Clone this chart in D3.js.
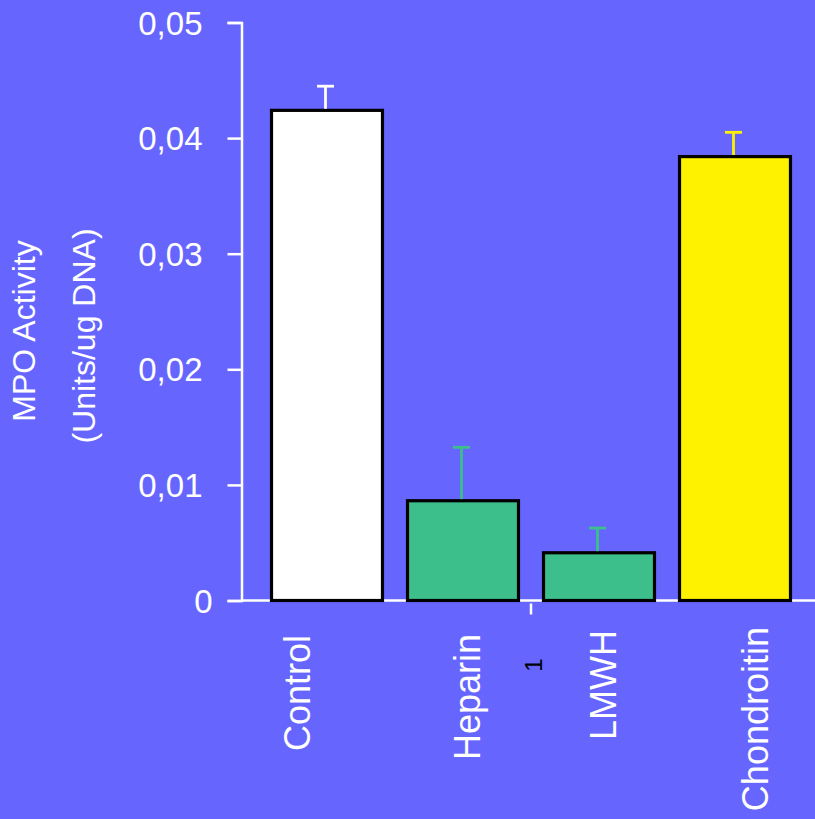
<!DOCTYPE html>
<html>
<head>
<meta charset="utf-8">
<script src="https://cdn.jsdelivr.net/npm/d3@7/dist/d3.min.js"></script>
<style>
  html, body { margin: 0; padding: 0; background: #6666ff; }
  svg { display: block; }
  text { font-family: "Liberation Sans", Arial, Helvetica, sans-serif; }
</style>
</head>
<body>
<svg id="chart" width="815" height="819"></svg>
<script>
// MPO activity per treatment group (mean and SEM)
const categories = ["Control", "Heparin", "LMWH", "Chondroitin"];
const means      = [0.0424, 0.00863, 0.00413, 0.0384];
const errors     = [0.00209, 0.00462, 0.00214, 0.0021];
const fills      = ["#ffffff", "#3cbf8b", "#3cbf8b", "#fff200"];
const yTicks     = [0, 0.01, 0.02, 0.03, 0.04, 0.05];

const svg = d3.select("#chart");
const W = 815, H = 819;

svg.append("rect").attr("width", W).attr("height", H).attr("fill", "#6666ff");

const axisX = 241.5;

const y = d3.scaleLinear().domain([0, 0.05]).range([600.5, 22.5]);
const x = d3.scaleBand().domain(categories).range([259, 803])
  .paddingInner(0.184).paddingOuter(0.092);

// y axis
const yAxis = d3.axisLeft(y).tickValues(yTicks).tickSize(14).tickPadding(25)
  .tickFormat(d => d === 0 ? "0" : d3.format(".2f")(d).replace(".", ","));
const gy = svg.append("g").attr("transform", `translate(${axisX},0)`).call(yAxis);
gy.select(".domain").attr("stroke", "#fff").attr("stroke-width", 2.5);
gy.selectAll(".tick line").attr("stroke", "#fff").attr("stroke-width", 2.5);
gy.selectAll(".tick text").attr("fill", "#fff").attr("font-size", 33)
  .attr("font-family", "Liberation Sans, Arial, sans-serif").attr("dy", "0.35em");
gy.selectAll(".tick").filter(d => d === 0).select("text").attr("x", -29);

// x baseline
svg.append("line")
  .attr("x1", axisX).attr("x2", W)
  .attr("y1", y(0)).attr("y2", y(0))
  .attr("stroke", "#fff").attr("stroke-width", 2.5);

// small divider tick between the two heparin groups
const divX = (x("Heparin") + x.bandwidth() + x("LMWH")) / 2;
svg.append("line")
  .attr("x1", divX).attr("x2", divX)
  .attr("y1", y(0) + 3).attr("y2", y(0) + 14)
  .attr("stroke", "#fff").attr("stroke-width", 2.5);

// bars
svg.append("g").selectAll("rect").data(categories).join("rect")
  .attr("x", d => x(d))
  .attr("width", x.bandwidth())
  .attr("y", (d, i) => y(means[i]))
  .attr("height", (d, i) => y(0) - y(means[i]))
  .attr("fill", (d, i) => fills[i])
  .attr("stroke", "#000")
  .attr("stroke-width", 3.2);

// error bars (upper half only)
const capW = 17;
const eg = svg.append("g");
categories.forEach((c, i) => {
  const cx = x(c) + x.bandwidth() / 2 - 1.5;
  const top = y(means[i] + errors[i]);
  const base = y(means[i]) - 1.6;
  eg.append("line").attr("x1", cx).attr("x2", cx).attr("y1", top).attr("y2", base)
    .attr("stroke", fills[i]).attr("stroke-width", 2.8);
  eg.append("line").attr("x1", cx - capW / 2).attr("x2", cx + capW / 2)
    .attr("y1", top).attr("y2", top)
    .attr("stroke", fills[i]).attr("stroke-width", 2.8);
});

// category labels, rotated, each nudged from its band centre
const labelNudge = {
  "Control":     { dx: -17, dy: 3 },
  "Heparin":     { dx: 17,  dy: 2 },
  "LMWH":        { dx: 17,  dy: -2 },
  "Chondroitin": { dx: 33,  dy: -5 }
};
svg.append("g").selectAll("text").data(categories).join("text")
  .attr("transform", d => `translate(${x(d) + x.bandwidth() / 2 + labelNudge[d].dx},${632 + labelNudge[d].dy}) rotate(-90)`)
  .attr("text-anchor", "end")
  .attr("fill", "#fff")
  .attr("font-size", 36)
  .text(d => d);

// stray mark below the axis
svg.append("text")
  .attr("transform", `translate(${divX + 11},665) rotate(-90)`)
  .attr("text-anchor", "middle")
  .attr("font-family", "Liberation Serif, Times New Roman, serif")
  .attr("font-size", 24)
  .attr("fill", "#000")
  .text("1");

// y axis title
const title = svg.append("g").attr("fill", "#fff").attr("font-size", 32).attr("text-anchor", "middle");
title.append("text").attr("transform", "translate(35,331) rotate(-90)").text("MPO Activity");
title.append("text").attr("transform", "translate(95,336) rotate(-90)").text("(Units/ug DNA)");
</script>
</body>
</html>
